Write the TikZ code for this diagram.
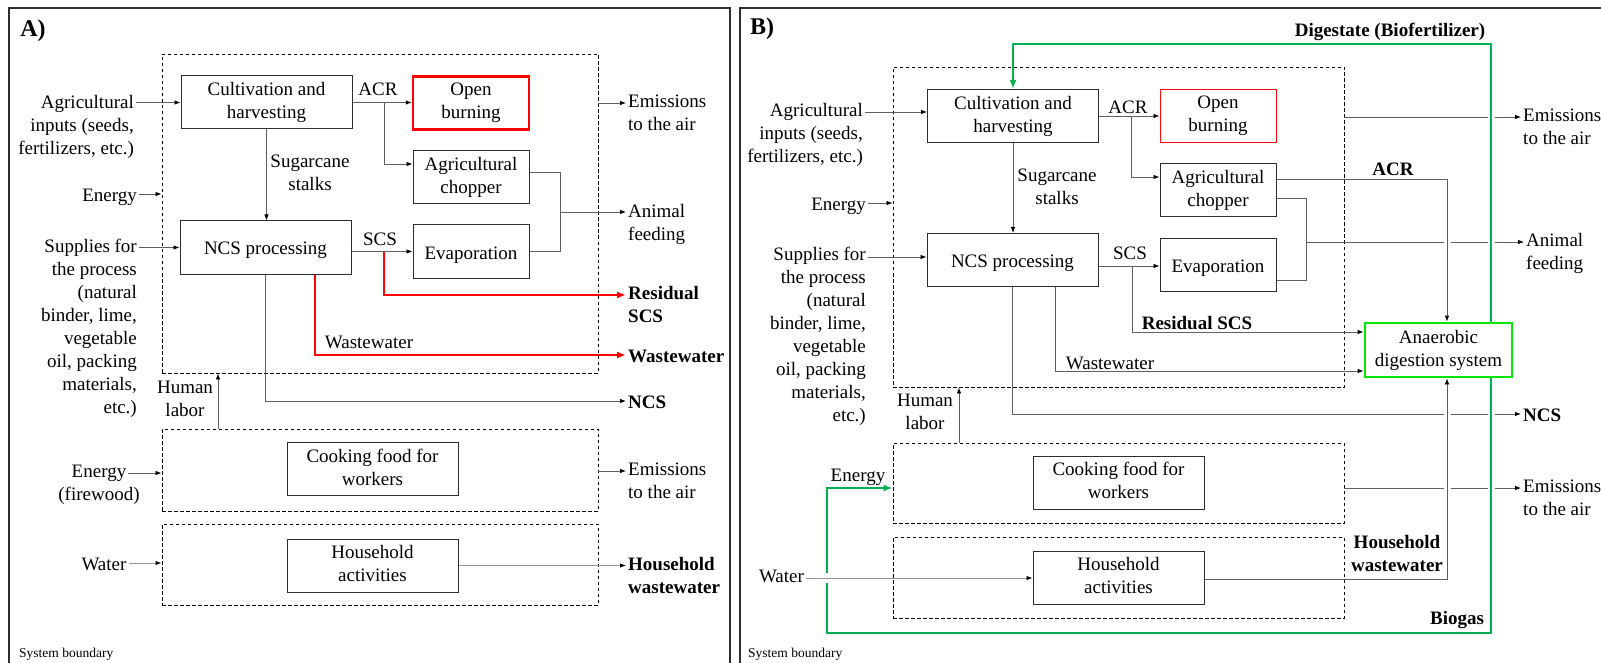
\documentclass[tikz,border=0pt]{standalone}
\usepackage{fontspec}
\setmainfont{Liberation Serif}
\usetikzlibrary{arrows.meta,calc}
\definecolor{cgray}{RGB}{95,95,95}
\definecolor{wgray}{RGB}{150,150,150}
\definecolor{bordc}{RGB}{45,45,45}
\definecolor{bgreen}{RGB}{0,176,80}
\definecolor{lgreen}{RGB}{0,230,0}
\definecolor{bred}{RGB}{255,0,0}
\newcommand\mystrut{\rule[-3.9pt]{0pt}{23pt}}
\begin{document}
\begin{tikzpicture}[x=1pt,y=-1pt,
  every node/.style={font=\rmfamily\fontsize{19}{23}\selectfont, inner sep=0pt,
    execute at begin node={\mystrut}, execute at end node={\mystrut}},
  bold/.style={font=\rmfamily\fontsize{19}{23}\selectfont\bfseries},
  proc/.style={draw=bordc, line width=1pt, align=center, minimum width=171pt, minimum height=53pt},
  sproc/.style={proc, minimum width=116pt},
  bound/.style={draw=black, dash pattern=on 3.5pt off 2.5pt, line width=0.9pt},
  outl/.style={anchor=west, align=left, inner xsep=2pt},
  conn/.style={draw=cgray, line width=0.8pt},
  wconn/.style={draw=wgray, line width=0.9pt},
  arr/.style={-{Latex[length=6pt,width=4.5pt,color=black]}},
  redl/.style={draw=bred, line width=2.5pt, -{Latex[length=9pt,width=7pt]}},
  gline/.style={draw=bgreen, line width=2.5pt, -{Latex[length=9pt,width=7pt]}},
  gap/.style={fill=white, draw=none},
  frame/.style={draw=bordc, line width=1.6pt}
]
\useasboundingbox (0,0) rectangle (1601,663);
\fill[white] (0,0) rectangle (1601,663);

% ---------------- Panel A ----------------
\draw[frame] (9,8) rectangle (730,690);
\node[font=\rmfamily\fontsize{24}{28}\selectfont\bfseries] (tA) at (33,30) {A)};

\node[bound, minimum width=436pt, minimum height=319pt] (dA1) at (380,213.5) {};
\node[bound, minimum width=436pt, minimum height=82pt] (dA2) at (380,470) {};
\node[bound, minimum width=436pt, minimum height=81pt] (dA3) at (380,564.5) {};

\node[proc] (cultA) at (266.5,102.5) {Cultivation and\\harvesting};
\node[proc] (ncsA) at (265.5,247.5) {NCS processing};
\node[sproc, draw=bred, line width=2.5pt] (obA) at (471,103) {Open\\burning};
\node[sproc] (chopA) at (471,177.5) {Agricultural\\chopper};
\node[sproc] (evapA) at (471,251.5) {Evaporation};
\node[proc] (cookA) at (372.5,469) {Cooking food for\\workers};
\node[proc] (hhA) at (372.5,565.5) {Household\\activities};

\node[align=right, anchor=east] (agriA) at (134,126.5) {Agricultural\\inputs (seeds,\\fertilizers, etc.)};
\node[anchor=east] (enA) at (137,194) {Energy};
\node[align=right, anchor=east] (supA) at (137,328.5) {Supplies for\\the process\\(natural\\binder, lime,\\vegetable\\oil, packing\\materials,\\etc.)};
\node[align=center] (enfA) at (99,484.5) {Energy\\(firewood)};
\node (waterA) at (104,563) {Water};
\node[font=\rmfamily\fontsize{13.5}{16}\selectfont, anchor=west] (sbA) at (19,650) {System boundary};

\node (acrA) at (378,88) {ACR};
\node (scsA) at (380,238) {SCS};
\node[align=center] (sugA) at (310,175) {Sugarcane\\stalks};
\node (wwlA) at (369,341) {Wastewater};
\node[align=center] (hlA) at (185,401) {Human\\labor};

\node[outl] (emA1) at (626,115) {Emissions\\to the air};
\node[outl] (afA) at (626,224) {Animal\\feeding};
\node[outl, bold] (rsA) at (626,306.5) {Residual\\SCS};
\node[outl, bold] (wwA) at (626,355) {Wastewater};
\node[outl, bold] (ncsoA) at (626,401) {NCS};
\node[outl] (emA2) at (626,482.5) {Emissions\\to the air};
\node[outl, bold] (hwA) at (626,577.5) {Household\\wastewater};

\draw[conn,arr] ([xshift=2pt]agriA.east |- cultA.west) -- (cultA.west);
\draw[conn,arr] ([xshift=2pt]enA.east) -- (dA1.west |- enA.east);
\draw[conn,arr] ([xshift=2pt]supA.east |- ncsA.west) -- (ncsA.west);
\draw[conn,arr] (cultA.east) -- (obA.west |- cultA.east);
\coordinate (brA) at (384,102.5);
\draw[conn,arr] (brA) |- (chopA.west |- 0,164);
\draw[conn,arr] (cultA.south) -- (cultA.south |- ncsA.north);
\draw[conn,arr] (ncsA.east |- evapA.west) -- (evapA.west);
\draw[conn] (chopA.east |- 0,172) -| (560,251.5) -- (evapA.east);
\draw[conn,arr] (560,212) -- (afA.west |- 0,212);
\draw[conn,arr] (dA1.east |- 0,103) -- (emA1.west |- 0,103);
\draw[conn,arr] (ncsA.south) |- (ncsoA.west);
\draw[redl] (384,251.5) |- (rsA.west |- 0,295);
\draw[redl] (ncsA.south -| 315,0) |- (wwA.west);
\draw[conn,arr] (dA2.north -| 218,0) -- (dA1.south -| 218,0);
\draw[conn,arr] (128,473) -- (dA2.west |- 0,473);
\draw[conn,arr] (dA2.east |- 0,471) -- (emA2.west |- 0,471);
\draw[wconn,arr] ([xshift=2pt]waterA.east) -- (dA3.west |- waterA.east);
\draw[wconn,arr] (hhA.east) -- (hwA.west |- hhA.east);

% ---------------- Panel B ----------------
\draw[frame] (740,8) rectangle (1620,690);
\node[font=\rmfamily\fontsize{24}{28}\selectfont\bfseries] (tB) at (762,28) {B)};

\node[bound, minimum width=451pt, minimum height=320pt] (dB1) at (1118.5,227) {};
\node[bound, minimum width=451pt, minimum height=80pt] (dB2) at (1118.5,483) {};
\node[bound, minimum width=451pt, minimum height=81pt] (dB3) at (1118.5,577.5) {};

\node[proc] (cultB) at (1013,116) {Cultivation and\\harvesting};
\node[proc] (ncsB) at (1012.5,260) {NCS processing};
\node[sproc, draw=bred] (obB) at (1218,116) {Open\\burning};
\node[sproc] (chopB) at (1218,190) {Agricultural\\chopper};
\node[sproc] (evapB) at (1218,265) {Evaporation};
\node[proc] (cookB) at (1118.5,482.5) {Cooking food for\\workers};
\node[proc] (hhB) at (1118.5,577.5) {Household\\activities};
\node[proc, draw=lgreen, line width=2.8pt, minimum width=147pt, minimum height=54pt] (adB) at (1438.5,350) {Anaerobic\\digestion system};

\node[align=right, anchor=east] (agriB) at (863,135) {Agricultural\\inputs (seeds,\\fertilizers, etc.)};
\node[anchor=east] (enB1) at (866,203) {Energy};
\node[align=right, anchor=east] (supB) at (866,336.5) {Supplies for\\the process\\(natural\\binder, lime,\\vegetable\\oil, packing\\materials,\\etc.)};
\node (waterB) at (781.5,575) {Water};
\node (enB2) at (858,474) {Energy};
\node[font=\rmfamily\fontsize{13.5}{16}\selectfont, anchor=west] (sbB) at (748,650) {System boundary};

\node (acrB) at (1128,106) {ACR};
\node (scsB) at (1130,252) {SCS};
\node[align=center] (sugB) at (1057,188.5) {Sugarcane\\stalks};
\node[bold] (rsB) at (1197,322) {Residual SCS};
\node (wwlB) at (1110,362) {Wastewater};
\node[align=center] (hlB) at (925,413.5) {Human\\labor};
\node[bold] (acrB2) at (1393,168) {ACR};
\node[bold, align=center] (hwB) at (1397,555) {Household\\wastewater};
\node[bold] (bgB) at (1457,617) {Biogas};
\node[bold] (digB) at (1390,29) {Digestate (Biofertilizer)};

\node[outl] (emB1) at (1521,128.5) {Emissions\\to the air};
\node[outl] (afB) at (1524,253.5) {Animal\\feeding};
\node[outl, bold] (ncsoB) at (1521,414) {NCS};
\node[outl] (emB2) at (1521,500) {Emissions\\to the air};

\draw[conn,arr] ([xshift=2pt]agriB.east |- 0,112) -- (cultB.west |- 0,112);
\draw[conn,arr] ([xshift=2pt]enB1.east) -- (dB1.west |- enB1.east);
\draw[conn,arr] ([xshift=2pt]supB.east |- 0,257) -- (ncsB.west |- 0,257);
\draw[conn,arr] (cultB.east) -- (obB.west |- cultB.east);
\draw[conn,arr] (1131,116) |- (chopB.west |- 0,177);
\draw[conn,arr] (cultB.south) -- (cultB.south |- ncsB.north);
\draw[conn,arr] (ncsB.east |- 0,266) -- (evapB.west |- 0,266);
\draw[conn,arr] (1132,266) |- (adB.west |- 0,332);
\draw[conn,arr] (ncsB.south -| 1055,0) |- (adB.west |- 0,371);
\draw[conn,arr] (ncsB.south) |- (ncsoB.west);
\draw[conn] (chopB.east |- 0,198) -| (1306,280) -- (evapB.east |- 0,280);
\draw[conn,arr] (1306,242) -- (afB.west |- 0,242);
\draw[conn,arr] (dB1.east |- 0,117) -- (emB1.west |- 0,117);
\draw[conn,arr] (dB2.north -| 959,0) -- (dB1.south -| 959,0);
\draw[conn,arr] (dB2.east |- 0,488) -- (emB2.west |- 0,488);

% gaps where lines cross
\fill[gap] (1443.5,239.5) rectangle (1450.5,244.5);
\fill[gap] (1443.5,411.5) rectangle (1450.5,416.5);
\fill[gap] (1443.5,485.5) rectangle (1450.5,490.5);
\foreach \yy in {117,242,414,488} {\fill[gap] (1487.5,\yy-2.5) rectangle (1495,\yy+2.5);}

\draw[conn,arr] (chopB.east |- 0,179) -| (adB.north -| 1447,0);
\draw[conn,arr] (hhB.east |- 0,579) -| (adB.south -| 1447,0);

\draw[gline] (adB.north -| 1491,0) |- (cultB.north |- 0,44) -- (cultB.north);
\draw[gline] (adB.south -| 1491,0) |- (827,633) |- (dB2.west |- 0,488);
\fill[gap] (823,573) rectangle (831,583);
\draw[wconn,arr] ([xshift=2pt]waterB.east |- 0,578) -- (hhB.west |- 0,578);
\end{tikzpicture}
\end{document}
